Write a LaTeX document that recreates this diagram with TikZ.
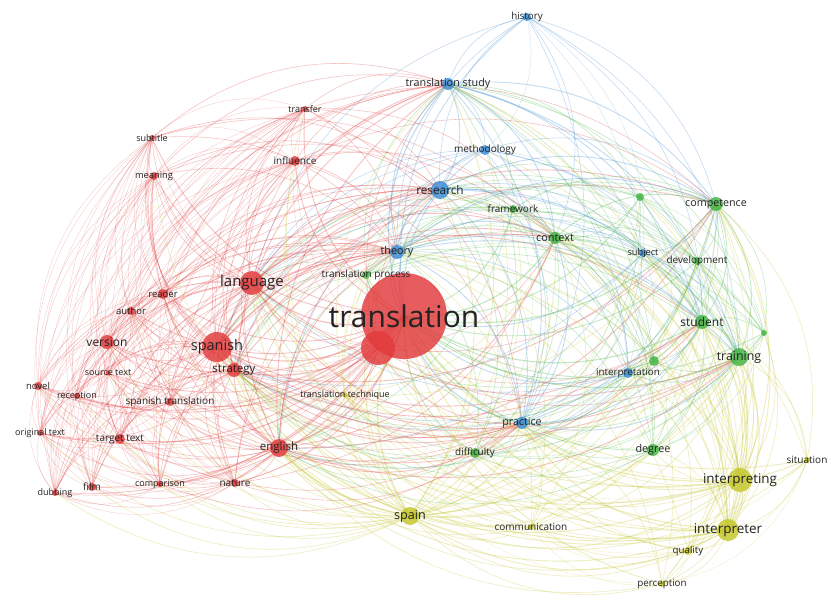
\documentclass[tikz,border=0pt]{standalone}
\usepackage{fontspec}
\setmainfont{Open Sans}
\definecolor{c1}{RGB}{226,58,60}
\definecolor{c2}{RGB}{58,140,212}
\definecolor{c3}{RGB}{66,180,68}
\definecolor{c4}{RGB}{196,198,40}
\definecolor{lab}{RGB}{35,35,35}
% name/x/y/cluster/hub/radius
\def\nlist{tr/404/316/1/2/43, trb/378/348/1/0/17, lang/252/283/1/1/12, spa/217/347/1/1/15, strat/234/370/1/1/7, vers/107/342/1/0/7, auth/131/311/1/0/4, read/163/294/1/0/5, src/108/373/1/0/2.5, nov/38/386/1/0/4, rec/77/396/1/0/3, spt/170/402/1/0/4, orig/40/433/1/0/3, tgt/120/439/1/0/5, eng/279/448/1/1/9, film/92/487/1/0/4, comp/160/484/1/0/3, nat/235/483/1/0/4, dub/55/493/1/0/3, subt/152/138/1/0/3, mean/154/176/1/0/4, trf/305/109/1/0/3, infl/295/161/1/0/5, hist/527/17/2/0/4, tst/448/84/2/1/6, meth/485/150/2/0/5, res/440/190/2/1/9, theo/397/252/2/1/7, subj/643/253/2/0/4, intp/628/373/2/0/5, prac/522/423/2/1/6, fw/513/209/3/0/4, ctx/555/238/3/1/6, tproc/366/275/3/0/4, cmp/716/204/3/1/7, ga/640/197/3/0/4, dev/697/261/3/0/4, stu/702/322/3/1/7, gb/764/333/3/0/3, trn/739/357/3/1/9, gc/654/361/3/0/5, diff/475/453/3/0/5, deg/653/450/3/0/6, spn/410/516/4/1/9, comm/531/527/4/0/3, sit/807/460/4/0/3, ing/740/480/4/1/12, ier/728/530/4/1/11, qual/688/551/4/0/4, perc/662/584/4/0/3, ttech/345/395/4/0/2.5}
% name/text/size
\def\llist{tr/translation/30, lang/language/15, spa/spanish/14.5, strat/strategy/11.5, vers/version/12, auth/author/9.5, read/reader/9.5, src/source text/9, nov/novel/9.5, rec/reception/9, spt/spanish translation/10, orig/original text/9, tgt/target text/10, eng/english/11.5, film/film/10, comp/comparison/9, nat/nature/10, dub/dubbing/9, subt/subtitle/9, mean/meaning/9.3, trf/transfer/9, infl/influence/10, hist/history/9.8, tst/translation study/10.8, meth/methodology/10, res/research/11.8, theo/theory/10.8, subj/subject/9.2, intp/interpretation/9.8, prac/practice/10.7, fw/framework/10, ctx/context/10.9, tproc/translation process/10, cmp/competence/10.7, dev/development/9.9, stu/student/12, trn/training/12.4, diff/difficulty/9.9, deg/degree/10.8, spn/spain/12.6, comm/communication/10, sit/situation/10, ing/interpreting/13.4, ier/interpreter/13.5, qual/quality/9.7, perc/perception/9.8, ttech/translation technique/9}
\tikzset{
  dotnode/.style={circle,inner sep=0pt,draw=none,fill opacity=0.82},
  labnode/.style={text=lab,inner sep=0pt},
  edgeline/.style={draw opacity=0.3}
}
\begin{document}
\begin{tikzpicture}[x=1pt,y=-1pt]
\fill[white] (0,0) rectangle (831,615);
\useasboundingbox (0,0) rectangle (831,615);
\foreach \na/\xa/\ya/\ca/\ha/\ra in \nlist { \coordinate (\na) at (\xa,\ya); }
\begin{scope}
\clip (0,0) rectangle (831,615);
\foreach \na/\xa/\ya/\ca/\ha/\ra [count=\i] in \nlist {
  \foreach \nb/\xb/\yb/\cb/\hb/\rb [count=\j] in \nlist {
    \ifnum\j>\i
      \pgfmathsetmacro\dd{100*sqrt(((\xa-\xb)/100)^2+((\ya-\yb)/100)^2)}
      \pgfmathtruncatemacro\dr{((\ca==\cb)||(\ha+\hb>1)||((\ha+\hb>0)&&(\dd<430)))?1:0}
      \ifnum\dr=1
        \pgfmathsetmacro\cr{(\xa-415)/100*(\yb-300)/100-(\ya-300)/100*(\xb-415)/100}
        \pgfmathsetmacro\ba{\cr>0?30:-30}
        \pgfmathsetmacro\lw{0.3+0.3*(\ha+\hb)}
        \edef\ec{c\ca}\ifnum\hb<\ha\relax\edef\ec{c\cb}\fi
        \ifnum\ca=4\relax\edef\ec{c4}\fi
        \ifnum\cb=4\relax\edef\ec{c4}\fi
        \draw[edgeline,line width=\lw pt,draw=\ec] (\na) to[bend left=\ba] (\nb);
      \fi
    \fi
  }
}
\end{scope}
\foreach \na/\xa/\ya/\ca/\ha/\ra in \nlist {
  \node[dotnode,minimum size=2*\ra pt,fill=c\ca] (d\na) at (\na) {};
}
\foreach \na/\tx/\fs in \llist {
  \node[labnode,font=\fontsize{\fs}{\fs}\selectfont] (l\na) at (\na) {\tx};
}
\end{tikzpicture}
\end{document}
